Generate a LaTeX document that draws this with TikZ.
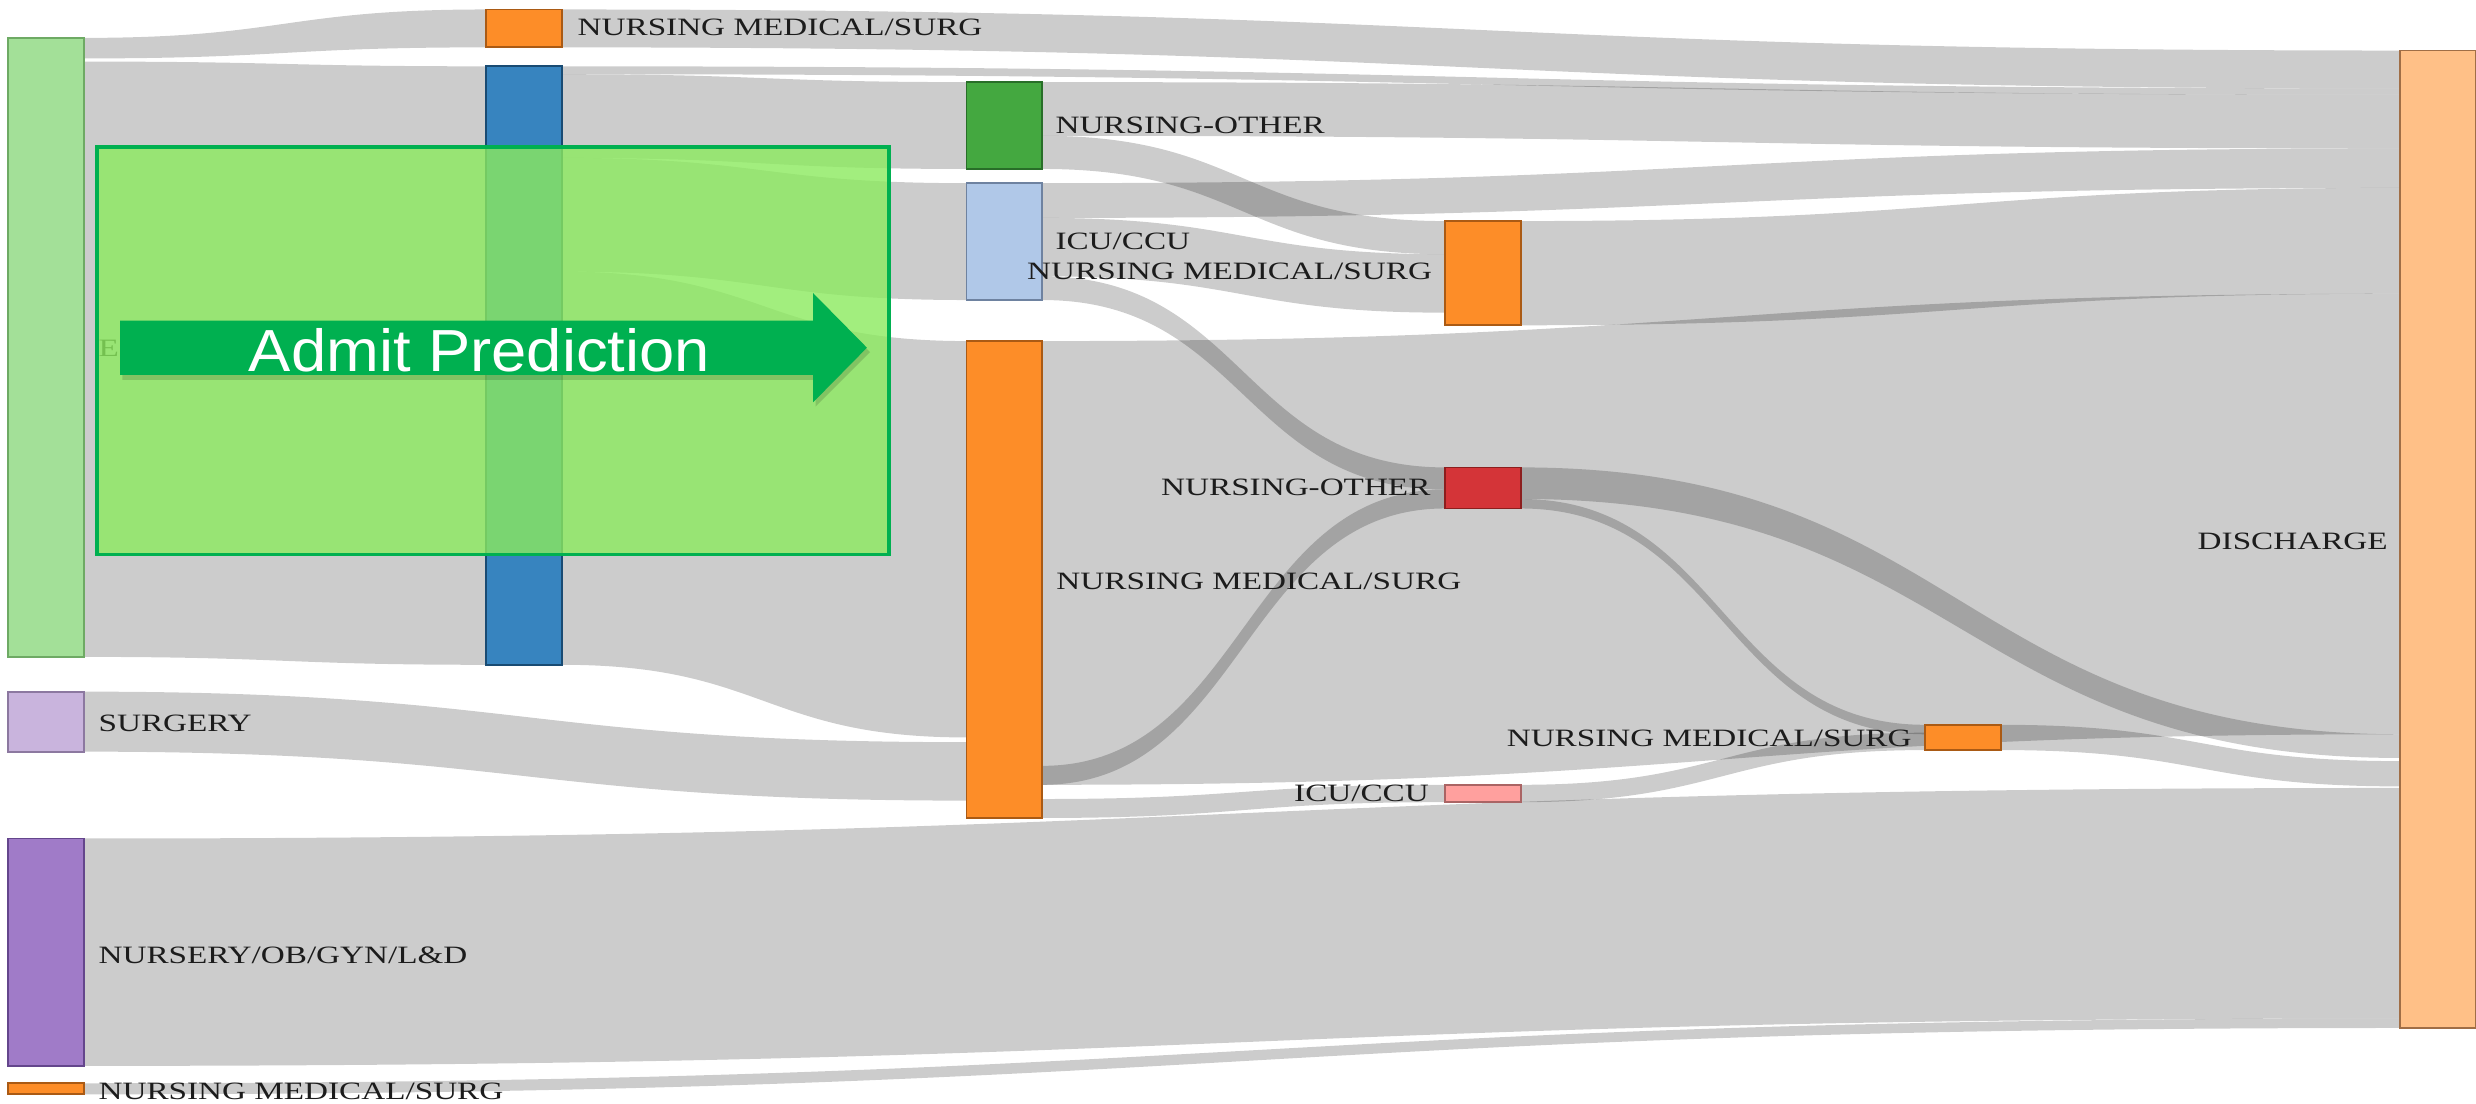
\documentclass[tikz,border=0pt]{standalone}
\usepackage{fontspec}
\newfontfamily\labfont{Liberation Serif}
\newfontfamily\arrfont{Liberation Sans}
\usetikzlibrary{calc}

\definecolor{cE}{RGB}{163,224,152}    \definecolor{dE}{RGB}{110,170,100}
\definecolor{cSU}{RGB}{201,180,221}   \definecolor{dSU}{RGB}{140,120,160}
\definecolor{cNU}{RGB}{160,123,200}   \definecolor{dNU}{RGB}{100,70,140}
\definecolor{cOR}{RGB}{253,141,40}    \definecolor{dOR}{RGB}{170,90,20}
\definecolor{cBL}{RGB}{55,132,191}    \definecolor{dBL}{RGB}{25,75,115}
\definecolor{cGR}{RGB}{68,168,64}     \definecolor{dGR}{RGB}{40,110,40}
\definecolor{cLB}{RGB}{176,200,232}   \definecolor{dLB}{RGB}{110,130,160}
\definecolor{cRD}{RGB}{212,52,56}     \definecolor{dRD}{RGB}{140,30,30}
\definecolor{cPK}{RGB}{255,160,158}   \definecolor{dPK}{RGB}{170,100,100}
\definecolor{cDC}{RGB}{255,192,135}   \definecolor{dDC}{RGB}{160,110,70}
\definecolor{labcol}{RGB}{28,28,28}
\definecolor{ovfill}{RGB}{139,234,94}
\definecolor{ovline}{RGB}{0,176,80}
\definecolor{arrgreen}{RGB}{0,176,80}

\newcommand{\U}{0.1579mm}
% \flowband[opts]{src}{y1 top}{y1 bottom}{tgt}{y2 top}{y2 bottom}
\newcommand{\flowband}[7][]{%
  \path (#2.east) -- coordinate[pos=0.5] (fm) (#5.west);
  \fill[flow,#1] (#2.east |- 0,#3) .. controls (fm |- 0,#3) and (fm |- 0,#6) .. (#5.west |- 0,#6)
     -- (#5.west |- 0,#7) .. controls (fm |- 0,#7) and (fm |- 0,#4) .. (#2.east |- 0,#4) -- cycle;
}
% \sknode{name}{fill}{draw}{x}{ytop}{ybottom}
\newcommand{\sknode}[6]{%
  \node[nodebox, fill=#2, draw=#3, minimum height={(#6-#5)*\U}] (#1) at (#4,#5) {};
}
\newcommand{\lbl}[1]{\scalebox{1.33}[1]{#1}}

\begin{document}
\begin{tikzpicture}[x=0.1579mm, y=-0.1579mm,
  flow/.style={fill=black, fill opacity=0.2},
  nodebox/.style={anchor=north west, inner sep=0, outer sep=0, line width=0.5pt,
                  minimum width=48*\U},
  labl/.style={font={\labfont\fontsize{7.1}{8}\selectfont}, text=labcol, inner sep=0},
  labw/.style={labl, anchor=base west},
  labe/.style={labl, anchor=base east}]

\useasboundingbox (0,0) rectangle (1568,699);
\fill[white] (0,0) rectangle (1568,699);

% ---- invisible node frames (so the bands can refer to them) ----
\begin{scope}[opacity=0]
\sknode{E}{cE}{dE}{5}{24}{416}
\sknode{SU}{cSU}{dSU}{5}{438}{476}
\sknode{NU}{cNU}{dNU}{5}{531}{675}
\sknode{S0}{cOR}{dOR}{5}{686}{693}
\sknode{M1}{cOR}{dOR}{308}{6}{30}
\sknode{B1}{cBL}{dBL}{308}{42}{421}
\sknode{O2}{cGR}{dGR}{612}{52}{107}
\sknode{I2}{cLB}{dLB}{612}{116}{190}
\sknode{M2}{cOR}{dOR}{612}{216}{518}
\sknode{M3}{cOR}{dOR}{915}{140}{206}
\sknode{R3}{cRD}{dRD}{915}{296}{322}
\sknode{I3}{cPK}{dPK}{915}{497}{508}
\sknode{M4}{cOR}{dOR}{1219}{459}{475}
\sknode{D5}{cDC}{dDC}{1520}{32}{651}
\end{scope}

% ---- flows ----
\flowband{E}{24}{37}{M1}{6}{30}
\flowband{E}{39}{416}{B1}{42}{421}
\flowband{B1}{42}{47}{D5}{56}{60}
\flowband{B1}{47}{100}{O2}{52}{107}
\flowband{B1}{100}{172}{I2}{116}{190}
\flowband{B1}{172}{421}{M2}{216}{467}
\flowband{SU}{438}{476}{M2}{470}{507}
\flowband{NU}{531}{675}{D5}{499}{645}
\flowband{S0}{686}{693}{D5}{645}{651}
\flowband{M1}{6}{30}{D5}{32}{56}
\flowband{O2}{52}{86}{D5}{60}{94}
\flowband{O2}{86}{107}{M3}{140}{161}
\flowband{I2}{116}{138}{D5}{94}{119}
\flowband{I2}{138}{175}{M3}{161}{198}
\flowband{I2}{175}{190}{R3}{296}{310}
\flowband{M3}{140}{206}{D5}{119}{186}
\flowband{M2}{216}{497}{D5}{186}{465}
\flowband{M2}{485}{497}{R3}{310}{322}
\flowband{M2}{506}{518}{I3}{497}{508}
\flowband{R3}{296}{316}{D5}{465}{480}
\flowband{R3}{316}{322}{M4}{459}{465}
\flowband{I3}{497}{508}{M4}{464}{475}
\flowband{M4}{459}{475}{D5}{482}{498}

% ---- nodes drawn ----
\sknode{E}{cE}{dE}{5}{24}{416}
\sknode{SU}{cSU}{dSU}{5}{438}{476}
\sknode{NU}{cNU}{dNU}{5}{531}{675}
\sknode{S0}{cOR}{dOR}{5}{686}{693}
\sknode{M1}{cOR}{dOR}{308}{6}{30}
\sknode{B1}{cBL}{dBL}{308}{42}{421}
\sknode{O2}{cGR}{dGR}{612}{52}{107}
\sknode{I2}{cLB}{dLB}{612}{116}{190}
\sknode{M2}{cOR}{dOR}{612}{216}{518}
\sknode{M3}{cOR}{dOR}{915}{140}{206}
\sknode{R3}{cRD}{dRD}{915}{296}{322}
\sknode{I3}{cPK}{dPK}{915}{497}{508}
\sknode{M4}{cOR}{dOR}{1219}{459}{475}
\sknode{D5}{cDC}{dDC}{1520}{32}{651}

% ---- labels ----
\node[labw] (lE)  at (62,226)   {\lbl{E}};
\node[labw] (lSU) at (62,463.4) {\lbl{SURGERY}};
\node[labw] (lNU) at (62,610)   {\lbl{NURSERY/OB/GYN/L\&D}};
\node[labw] (lS0) at (62,696.5) {\lbl{NURSING MEDICAL/SURG}};
\node[labw] (lM1) at (365.4,22.8) {\lbl{NURSING MEDICAL/SURG}};
\node[labw] (lO2) at (668,84.4) {\lbl{NURSING-OTHER}};
\node[labw] (lI2) at (668,158.3) {\lbl{ICU/CCU}};
\node[labw] (lM2) at (668.6,373.6) {\lbl{NURSING MEDICAL/SURG}};
\node[labe] (lM3) at (907.3,177.3) {\lbl{NURSING MEDICAL/SURG}};
\node[labe] (lR3) at (906.3,314) {\lbl{NURSING-OTHER}};
\node[labe] (lI3) at (905.3,507.7) {\lbl{ICU/CCU}};
\node[labe] (lM4) at (1211,473) {\lbl{NURSING MEDICAL/SURG}};
\node[labe] (lD5) at (1512.5,348) {\lbl{DISCHARGE}};

% ---- overlay box ----
\fill[ovfill, fill opacity=0.8] (61.5,93) rectangle (563,351);
\draw[ovline, line width=0.35mm] (61.5,93) rectangle (563,351);

% ---- arrow ----
\fill[black, opacity=0.14] (77.5,205.5) -- (516.5,205.5) -- (516.5,188.5) -- (551,223) -- (516.5,257.5) -- (516.5,240.5) -- (77.5,240.5) -- cycle;
\fill[arrgreen] (76,203) -- (515,203) -- (515,185.7) -- (549,220.2) -- (515,254.7) -- (515,237.4) -- (76,237.4) -- cycle;
\node[font={\arrfont\fontsize{16.9}{20}\selectfont}, text=white, anchor=base, inner sep=0] (admit) at (303.6,235) {\scalebox{1.066}[1]{Admit Prediction}};
\end{tikzpicture}
\end{document}
